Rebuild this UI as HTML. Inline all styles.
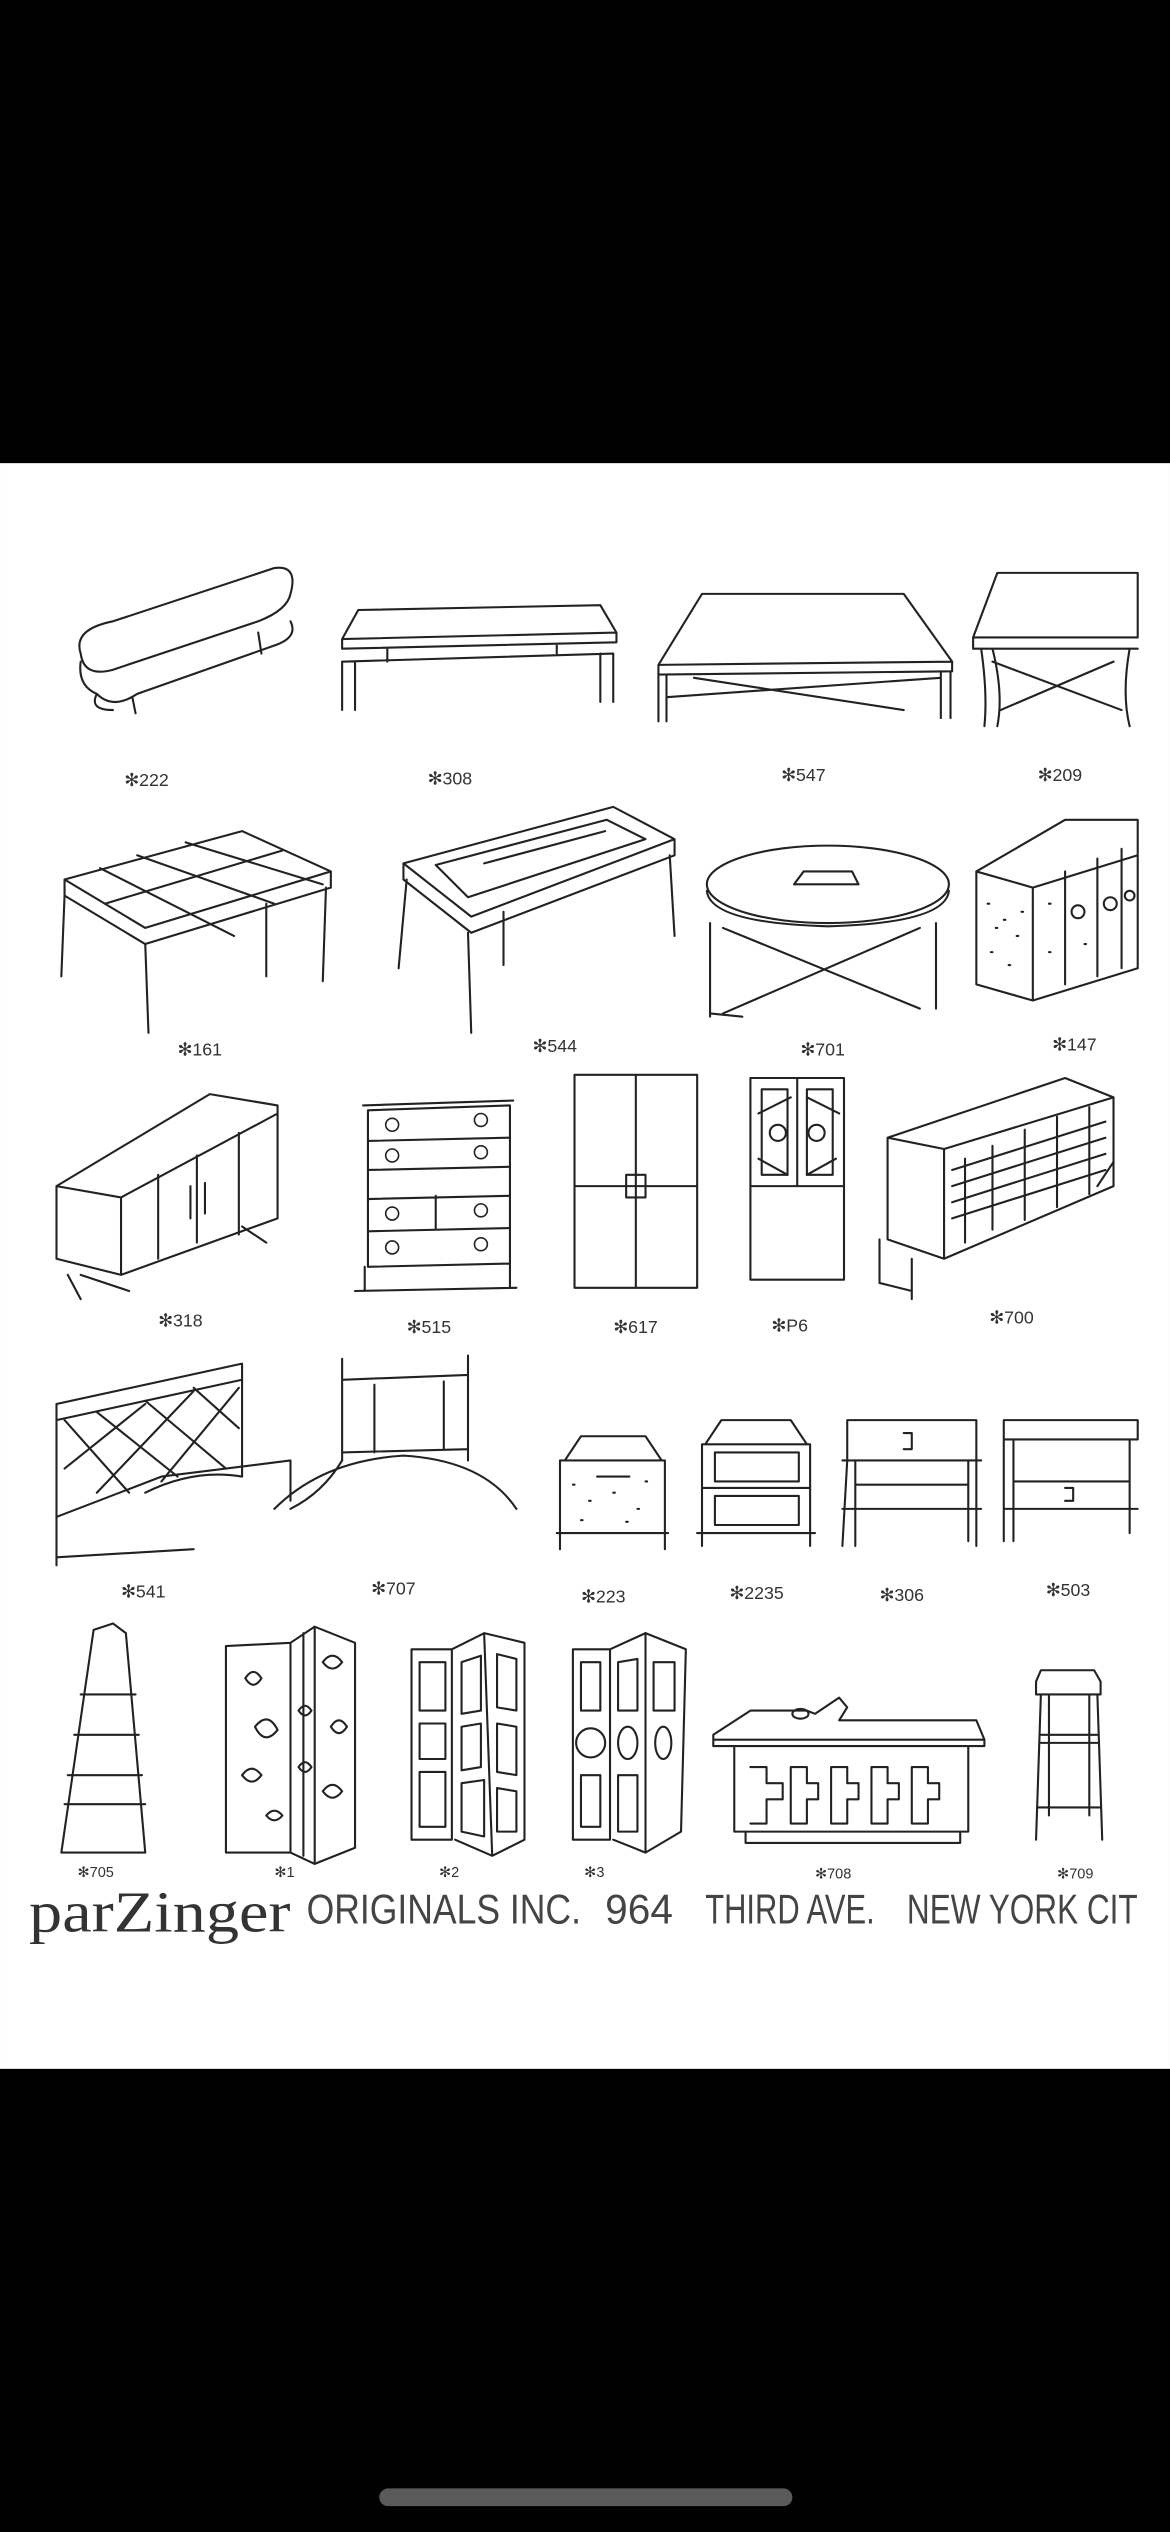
<!DOCTYPE html>
<html><head><meta charset="utf-8"><style>
html,body{margin:0;padding:0;background:#000;}
svg{display:block}
</style></head><body>
<svg width="1170" height="2532" viewBox="0 0 725 1569" xmlns="http://www.w3.org/2000/svg">
<rect x="0" y="0" width="725" height="1569" fill="#000"/>
<rect x="0" y="287" width="725" height="995" fill="#fff"/>
<rect x="235" y="1542" width="256" height="11" rx="5.5" fill="#5a5a5a"/>
<g fill="none" stroke="#222" stroke-width="1.3" stroke-linejoin="round" stroke-linecap="round">
<!-- 222 -->
<path d="M50,405 Q45,390 70,385 L170,352 Q185,350 180,368 Q178,378 160,385 L70,415 Q52,420 50,405 Z"/>
<path d="M50,410 Q48,425 60,430 Q70,440 85,430 L170,400 Q185,395 180,385"/>
<path d="M60,430 Q55,440 70,440 M82,432 L84,442 M160,392 L162,405"/>
<!-- 308 -->
<path d="M222,378 L372,375 L382,392 L212,396 Z M212,396 L212,402 L382,398 L382,392"/>
<path d="M212,410 L380,405 M212,410 L212,440 M220,410 L220,440 M372,405 L372,435 M380,405 L380,435 M240,402 L240,410 M345,400 L345,405"/>
<!-- 547 -->
<path d="M435,368 L560,368 L590,410 L408,412 Z M408,412 L408,418 L590,416 L590,410"/>
<path d="M408,418 L408,447 M413,418 L413,447 M583,416 L583,445 M589,416 L589,445 M413,432 L583,420 M430,420 L560,440"/>
<!-- 209 -->
<path d="M618,355 L705,355 L705,395 L603,395 Z M603,395 L603,402 L705,402"/>
<path d="M608,402 Q612,430 610,450 M615,402 Q622,430 618,450 M700,402 Q695,430 700,450 M615,410 L695,440 M690,410 L620,440"/>
<!-- labels row1 -->
</g>
<g font-family="Liberation Sans, sans-serif" font-size="11" fill="#333">
<text x="77" y="487">✻222</text>
<text x="265" y="486">✻308</text>
<text x="484" y="484">✻547</text>
<text x="643" y="484">✻209</text>
<text x="110" y="654">✻161</text>
<text x="330" y="652">✻544</text>
<text x="496" y="654">✻701</text>
<text x="652" y="651">✻147</text>
<text x="98" y="822">✻318</text>
<text x="252" y="826">✻515</text>
<text x="380" y="826">✻617</text>
<text x="478" y="825">✻P6</text>
<text x="613" y="820">✻700</text>
<text x="75" y="990">✻541</text>
<text x="230" y="988">✻707</text>
<text x="360" y="993">✻223</text>
<text x="452" y="991">✻2235</text>
<text x="545" y="992">✻306</text>
<text x="648" y="989">✻503</text>
<text x="48" y="1163" font-size="9">✻705</text>
<text x="170" y="1163" font-size="9">✻1</text>
<text x="272" y="1163" font-size="9">✻2</text>
<text x="362" y="1163" font-size="9">✻3</text>
<text x="505" y="1164" font-size="9">✻708</text>
<text x="655" y="1164" font-size="9">✻709</text>
</g>
<g fill="none" stroke="#222" stroke-width="1.3" stroke-linejoin="round" stroke-linecap="round">
<!-- 161 -->
<path d="M40,545 L150,515 L205,540 L90,575 Z M40,545 L40,555 L90,585 L205,550 L205,540"/>
<path d="M62,538 L145,580 M85,530 L170,560 M115,522 L200,548 M65,560 L175,527"/>
<path d="M40,555 L38,605 M90,585 L92,640 M165,560 L165,605 M202,550 L200,608"/>
<!-- 544 -->
<path d="M250,535 L380,500 L418,520 L292,568 Z M250,535 L250,545 L292,578 L418,530 L418,520"/>
<path d="M270,536 L376,508 L400,520 L290,556 Z M300,535 L375,515"/>
<path d="M252,545 L247,600 M290,578 L292,640 M312,565 L312,598 M415,530 L418,580"/>
<!-- 701 -->
<ellipse cx="513" cy="548" rx="75" ry="24"/>
<path d="M438,552 Q440,572 513,574 Q586,572 588,552"/>
<path d="M498,540 L528,540 L532,548 L492,548 Z"/>
<path d="M440,572 L440,630 M580,572 L580,625 M448,575 L570,625 M570,575 L448,628 M440,628 L460,630"/>
<!-- 147 -->
<path d="M605,540 L660,508 L705,508 L705,600 L640,620 L605,610 Z M605,540 L640,550 L640,620 M640,550 L705,530"/>
<path d="M660,540 L660,610 M680,532 L680,605 M695,526 L695,600"/>
<circle cx="668" cy="565" r="4"/><circle cx="688" cy="560" r="4"/><circle cx="700" cy="555" r="3"/>
<path d="M612,560 h1 M622,570 h1 M630,580 h1 M614,590 h1 M625,598 h1 M633,565 h1 M617,575 h1 M650,560 h1 M650,590 h1 M672,585 h1"/>
<!-- 318 -->
<path d="M35,735 L130,678 L172,685 L172,755 L75,790 L35,780 Z M35,735 L75,742 L172,690 M75,742 L75,790"/>
<path d="M98,728 L98,780 M122,716 L122,770 M148,702 L148,765 M118,735 L118,755 M127,733 L127,752"/>
<path d="M42,790 L50,805 M50,790 L80,800 M150,760 L165,770"/>
<!-- 515 -->
<path d="M228,688 L316,685 L316,783 L228,785 Z M225,685 L318,682 M226,785 L226,800 M316,783 L316,798 M220,800 L320,798"/>
<path d="M228,707 L316,705 M228,725 L316,723 M228,743 L316,741 M228,763 L316,761 M270,741 L270,761"/>
<g stroke-width="1"><circle cx="243" cy="697" r="4"/><circle cx="298" cy="694" r="4"/><circle cx="243" cy="716" r="4"/><circle cx="298" cy="714" r="4"/><circle cx="243" cy="752" r="4"/><circle cx="298" cy="750" r="4"/><circle cx="243" cy="773" r="4"/><circle cx="298" cy="771" r="4"/></g>
<!-- 617 -->
<path d="M356,666 L432,666 L432,798 L356,798 Z M394,666 L394,798 M356,735 L432,735 M388,728 L400,728 L400,742 L388,742 Z"/>
<!-- P6 -->
<path d="M465,668 L523,668 L523,793 L465,793 Z M494,668 L494,735 M465,735 L523,735"/>
<path d="M472,675 L488,675 L488,728 L472,728 Z M500,675 L516,675 L516,728 L500,728 Z"/>
<circle cx="482" cy="702" r="5"/><circle cx="506" cy="702" r="5"/>
<path d="M470,690 L490,680 M500,680 L520,690 M470,718 L488,728 M500,728 L518,718"/>
<!-- 700 -->
<path d="M550,705 L660,668 L690,680 L690,735 L585,780 L550,768 Z M550,705 L585,712 L690,680 M585,712 L585,780"/>
<path d="M598,718 L598,770 M615,710 L615,762 M635,700 L635,756 M655,692 L655,748 M675,686 L675,740"/>
<path d="M590,725 L685,695 M590,735 L685,705 M590,745 L685,715 M590,755 L685,725"/>
<path d="M545,768 L545,795 M545,795 L565,800 M565,780 L565,805 M680,735 L690,720"/>
<!-- 541 bed -->
<path d="M35,870 L35,970 M150,845 L150,915 M35,870 L150,845 M35,880 L150,855"/>
<path d="M40,880 L80,925 M60,875 L110,915 M90,868 L140,910 M120,860 L148,885 M40,910 L90,870 M60,925 L120,862 M100,918 L148,860"/>
<path d="M35,940 L100,915 L180,905 L180,930 M35,965 L120,960 M90,925 Q120,910 150,915"/>
<!-- 707 -->
<path d="M212,842 L212,905 M290,840 L290,905 M212,855 L290,852 M212,900 L290,898 M232,858 L232,900 M275,856 L275,898"/>
<path d="M170,935 Q200,905 250,902 Q300,905 320,935 M212,905 Q200,925 180,935"/>
<!-- 223 -->
<path d="M350,905 L360,890 L400,890 L410,905 Z M347,905 L412,905 L412,950 L347,950 Z M345,950 L414,950 M347,950 L347,960 M412,950 L412,960 M370,915 L390,915"/>
<path d="M355,920 h1 M365,930 h1 M380,925 h1 M395,935 h1 M360,942 h1 M400,918 h1 M388,943 h1"/>
<!-- 2235 -->
<path d="M437,895 L447,880 L490,880 L500,895 Z M435,895 L502,895 L502,950 L435,950 Z M435,922 L502,922 M432,950 L505,950 M435,950 L435,958 M502,950 L502,958"/>
<path d="M443,900 L495,900 L495,918 L443,918 Z M443,927 L495,927 L495,945 L443,945 Z"/>
<!-- 306 -->
<path d="M525,880 L605,880 L605,905 L525,905 Z M522,905 L608,905 M530,920 L600,920 M525,905 L522,958 M530,905 L530,958 M600,905 L600,955 M605,905 L605,958 M522,935 L608,935 M560,888 L565,888 L565,898 L560,898"/>
<!-- 503 -->
<path d="M622,880 L705,880 L705,892 L622,892 Z M622,892 L622,955 M628,892 L628,955 M700,892 L700,950 M622,935 L705,935 M628,918 L700,918 M660,922 L665,922 L665,930 L660,930"/>
<!-- 705 -->
<path d="M58,1010 L70,1006 L78,1012 L90,1148 L38,1148 Z M50,1050 L84,1050 M46,1075 L86,1075 M42,1100 L88,1100 M40,1118 L90,1118 M38,1148 L90,1148"/>
<!-- screen 1 -->
<path d="M140,1020 L180,1018 L180,1148 L140,1148 Z M180,1018 L195,1008 L195,1155 L180,1148 M195,1008 L220,1018 L220,1145 L195,1155 M188,1012 L188,1150"/>
<path d="M152,1040 q5,-8 10,0 q-5,8 -10,0 M158,1070 q8,-10 14,2 q-8,10 -14,-2 M150,1100 q6,-8 12,0 q-6,8 -12,0 M165,1125 q5,-6 10,0 q-5,6 -10,0 M200,1030 q6,-8 12,0 q-6,8 -12,0 M205,1070 q5,-8 10,0 q-5,8 -10,0 M200,1110 q6,-8 12,0 q-6,8 -12,0 M185,1060 q4,-6 8,0 q-4,6 -8,0 M185,1095 q4,-6 8,0 q-4,6 -8,0"/>
<!-- screen 2 -->
<path d="M255,1022 L280,1022 L280,1140 L255,1140 Z M280,1022 L300,1012 L305,1150 L282,1140 M300,1012 L325,1018 L325,1140 L305,1150"/>
<path d="M260,1030 L276,1030 L276,1060 L260,1060 Z M260,1068 L276,1068 L276,1090 L260,1090 Z M260,1098 L276,1098 L276,1132 L260,1132 Z M286,1030 L298,1026 L298,1060 L286,1062 Z M286,1070 L298,1068 L298,1095 L286,1097 Z M286,1105 L300,1103 L300,1138 L286,1135 Z M308,1025 L320,1028 L320,1060 L308,1058 Z M308,1068 L320,1070 L320,1100 L308,1098 Z M308,1108 L320,1110 L320,1135 L308,1135 Z"/>
<!-- screen 3 -->
<path d="M355,1022 L378,1022 L378,1140 L355,1140 Z M378,1022 L400,1012 L400,1148 L380,1140 M400,1012 L425,1022 L422,1135 L400,1148"/>
<path d="M360,1030 L372,1030 L372,1060 L360,1060 Z M360,1100 L372,1100 L372,1132 L360,1132 Z M383,1030 L395,1028 L395,1060 L383,1060 Z M383,1100 L395,1100 L395,1135 L383,1135 Z M405,1030 L418,1030 L418,1060 L405,1060 Z"/>
<circle cx="366" cy="1080" r="9"/><ellipse cx="389" cy="1080" rx="6" ry="10"/><ellipse cx="411" cy="1080" rx="5" ry="10"/>
<!-- 708 desk -->
<path d="M442,1075 L465,1060 L500,1060 L505,1062 L520,1052 L525,1058 L520,1066 L605,1066 L610,1078 L442,1078 Z M442,1078 L442,1082 L610,1082 L610,1078"/>
<ellipse cx="496" cy="1062" rx="5" ry="3"/>
<path d="M455,1082 L455,1135 L600,1135 L600,1082 M462,1135 L462,1142 L595,1142 L595,1135"/>
<path d="M465,1095 L475,1095 L475,1105 L485,1105 L485,1115 L475,1115 L475,1130 L465,1130 M490,1095 L500,1095 L500,1105 L507,1105 L507,1115 L500,1115 L500,1130 L490,1130 Z M515,1095 L525,1095 L525,1105 L532,1105 L532,1115 L525,1115 L525,1130 L515,1130 Z M540,1095 L550,1095 L550,1105 L557,1105 L557,1115 L550,1115 L550,1130 L540,1130 Z M565,1095 L575,1095 L575,1105 L582,1105 L582,1115 L575,1115 L575,1130 L565,1130 Z"/>
<!-- 709 stool -->
<path d="M645,1035 L678,1035 L682,1042 L682,1050 L642,1050 L642,1042 Z M645,1050 L642,1140 M680,1050 L683,1140 M650,1050 L650,1125 M675,1050 L675,1125 M645,1075 L680,1075 M645,1080 L680,1080 M643,1120 L682,1120"/>
</g>
<text x="18" y="1197" font-family="Liberation Serif, serif" font-size="36" fill="#333" textLength="162" lengthAdjust="spacingAndGlyphs">parZinger</text>
<g font-family="Liberation Sans Narrow, Liberation Sans, sans-serif" font-size="26" fill="#444" font-weight="normal">
<text x="190" y="1192" textLength="170" lengthAdjust="spacingAndGlyphs">ORIGINALS INC.</text>
<text x="375" y="1192" textLength="42" lengthAdjust="spacingAndGlyphs">964</text>
<text x="437" y="1192" textLength="105" lengthAdjust="spacingAndGlyphs">THIRD AVE.</text>
<text x="562" y="1192" textLength="143" lengthAdjust="spacingAndGlyphs">NEW YORK CIT</text>
</g>
</svg>
</body></html>
